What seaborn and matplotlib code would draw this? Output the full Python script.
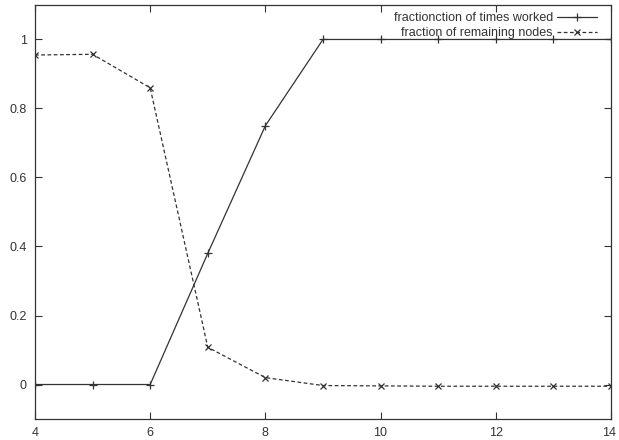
import matplotlib
matplotlib.use("Agg")
import matplotlib.pyplot as plt
import matplotlib.transforms as mtransforms
import seaborn as sns
import pandas as pd

# ---- Data ----
nodes = [4, 5, 6, 7, 8, 9, 10, 11, 12, 13, 14]
times_worked = [0, 0, 0, 0.38, 0.75, 1, 1, 1, 1, 1, 1]
remaining = [0.955, 0.957, 0.86, 0.108, 0.02, -0.003, -0.004, -0.005, -0.005, -0.005, -0.005]

x_ticks = [4, 6, 8, 10, 12, 14]
y_ticks = [0, 0.2, 0.4, 0.6, 0.8, 1]
y_tick_labels = ["0", "0.2", "0.4", "0.6", "0.8", "1"]

sns.set_style("ticks")
plt.rcParams["font.family"] = ["Liberation Sans", "DejaVu Sans"]

df = pd.DataFrame({"x": nodes, "worked": times_worked, "remaining": remaining})

fig = plt.figure(figsize=(6.19, 4.40), dpi=100)
ax = fig.add_axes([0.0565, 0.0477, 0.9305, 0.941])

ink = "#333333"
sns.lineplot(data=df, x="x", y="worked", ax=ax, color=ink, linewidth=0.9,
             marker="+", markersize=6, markeredgewidth=0.9, markeredgecolor=ink,
             label="fractionction of times worked")
sns.lineplot(data=df, x="x", y="remaining", ax=ax, color=ink, linewidth=0.9,
             marker="x", markersize=5, markeredgewidth=0.9, markeredgecolor=ink,
             linestyle=(0, (3, 2)), label="fraction of remaining nodes")

ax.set_xlim(4, 14)
ax.set_ylim(-0.1, 1.1)
ax.set_xticks(x_ticks)
ax.set_yticks(y_ticks)
ax.set_yticklabels(y_tick_labels)
ax.set_xlabel("")
ax.set_ylabel("")
ax.tick_params(direction="in", length=5, width=0.8, top=True, right=True,
               labelsize=9, colors=ink, pad=6)
for s in ax.spines.values():
    s.set_color(ink)
    s.set_linewidth(0.9)

# keep the last x label inside the figure
last = ax.get_xticklabels()[-1]
last.set_ha("right")
last.set_transform(last.get_transform() +
                   mtransforms.ScaledTranslation(5 / 100, 0, fig.dpi_scale_trans))

leg = ax.legend(loc="upper right", frameon=False, markerfirst=False,
                fontsize=9, handlelength=3.2, handletextpad=0.3,
                labelspacing=0.2, borderaxespad=0.2,
                bbox_to_anchor=(0.988, 1.0))
for t in leg.get_texts():
    t.set_color(ink)

fig.savefig("out.png", dpi=100)
plt.close(fig)
